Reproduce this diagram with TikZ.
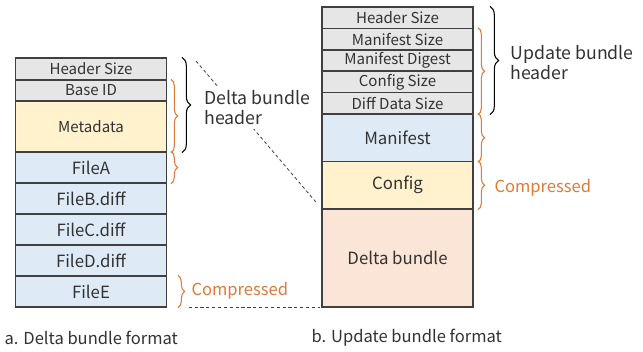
\documentclass[tikz,border=0pt]{standalone}
\usepackage{fontspec}
\setmainfont{Noto Sans CJK JP}
\usetikzlibrary{decorations.pathreplacing}
\definecolor{rowgray}{RGB}{231,230,230}
\definecolor{rowyellow}{RGB}{255,242,204}
\definecolor{rowblue}{RGB}{222,235,247}
\definecolor{rowpeach}{RGB}{251,229,214}
\definecolor{edge}{RGB}{64,64,64}
\definecolor{ink}{RGB}{50,50,50}
\definecolor{zorange}{RGB}{226,120,52}
\tikzset{
  cell/.style={draw=edge,line width=1.1pt,minimum width=113.4pt,inner sep=0pt,
               text=ink,font=\fontsize{12.6}{14}\selectfont},
  hcell/.style={cell,fill=rowgray,minimum height=16pt,font=\fontsize{11.3}{12}\selectfont},
  brc/.style={decorate,decoration={brace,amplitude=#1},line width=0.8pt},
  brc/.default=6.5pt,
  lbl/.style={anchor=west,align=left,text=ink,inner sep=1pt,font=\fontsize{13.3}{15}\selectfont},
  guide/.style={dashed,dash pattern=on 2.4pt off 2pt,line width=0.6pt,edge}
}
\begin{document}
\begin{tikzpicture}[x=0.75pt,y=-0.75pt]
  \useasboundingbox (0,0) rectangle (643,351);
  % a : delta bundle
  \node[hcell,minimum height=16.5pt] (hs) at (91,69) {Header Size};
  \node[hcell,minimum height=15.75pt] (bid) at (91,90.5) {Base ID};
  \node[cell,fill=rowyellow,minimum height=38.25pt,font=\fontsize{11.3}{12}\selectfont] (meta) at (91,126.5) {Metadata};
  \node[cell,fill=rowblue,minimum height=23.25pt] (fa) at (91,167.5) {FileA};
  \node[cell,fill=rowblue,minimum height=23.25pt] (fb) at (91,198.5) {FileB.diff};
  \node[cell,fill=rowblue,minimum height=23.25pt] (fc) at (91,229.5) {FileC.diff};
  \node[cell,fill=rowblue,minimum height=23.25pt] (fd) at (91,260.5) {FileD.diff};
  \node[cell,fill=rowblue,minimum height=23.25pt] (fe) at (91,291.5) {FileE};
  % b : update bundle
  \node[hcell] (uhs) at (397.5,17.7)  {Header Size};
  \node[hcell] (ums) at (397.5,39.1)  {Manifest Size};
  \node[hcell] (umd) at (397.5,60.5)  {Manifest Digest};
  \node[hcell] (ucs) at (397.5,81.9)  {Config Size};
  \node[hcell] (uds) at (397.5,103.3) {Diff Data Size};
  \node[cell,fill=rowblue,minimum height=35.6pt] (man) at (397.5,137.75) {Manifest};
  \node[cell,fill=rowyellow,minimum height=35.6pt] (cfg) at (397.5,185.25) {Config};
  \node[cell,fill=rowpeach,minimum height=73.5pt] (dlt) at (397.5,258) {Delta bundle};
  % guides
  \coordinate (dtop) at (196,61);
  \draw[guide,shorten >=4.5pt] (dtop) -- (dlt.north west);
  \draw[guide,shorten <=16pt,shorten >=1pt] (fe.south east) -- (dlt.south west);
  % braces, left
  \draw[brc] (182,0 |- hs.north) -- (182,0 |- meta.south);
  \draw[brc=5pt,zorange] (171,0 |- bid.north) -- (171,0 |- meta.south);
  \draw[brc=5pt,zorange] (171,0 |- fa.north) -- (171,0 |- fa.south);
  \draw[brc=5pt,zorange] (178,0 |- fe.north) -- (178,0 |- fe.south);
  \node[lbl,fill=white,inner ysep=3pt] (dbh) at (203,108) {Delta bundle\\header};
  \node[lbl,text=zorange,font=\fontsize{12.4}{15}\selectfont] (cl) at (190,291) {Compressed};
  % braces, right
  \draw[brc] (490,0 |- uhs.north) -- (490,0 |- uds.south);
  \draw[brc=5pt,zorange] (478,0 |- ums.north) -- (478,0 |- uds.south);
  \draw[brc=5pt,zorange] (478,0 |- man.north) -- (478,0 |- man.south);
  \draw[brc=5pt,zorange] (478,0 |- cfg.north) -- (478,0 |- cfg.south);
  \node[lbl] (ubh) at (509,63) {Update bundle\\header};
  \node[lbl,text=zorange,font=\fontsize{12.4}{15}\selectfont] (cr) at (493,188) {Compressed};
  % captions
  \node[lbl,font=\fontsize{12.4}{14}\selectfont] (capa) at (3,338) {a. Delta bundle format};
  \node[lbl,font=\fontsize{12.4}{14}\selectfont] (capb) at (310,338) {b. Update bundle format};
\end{tikzpicture}
\end{document}
